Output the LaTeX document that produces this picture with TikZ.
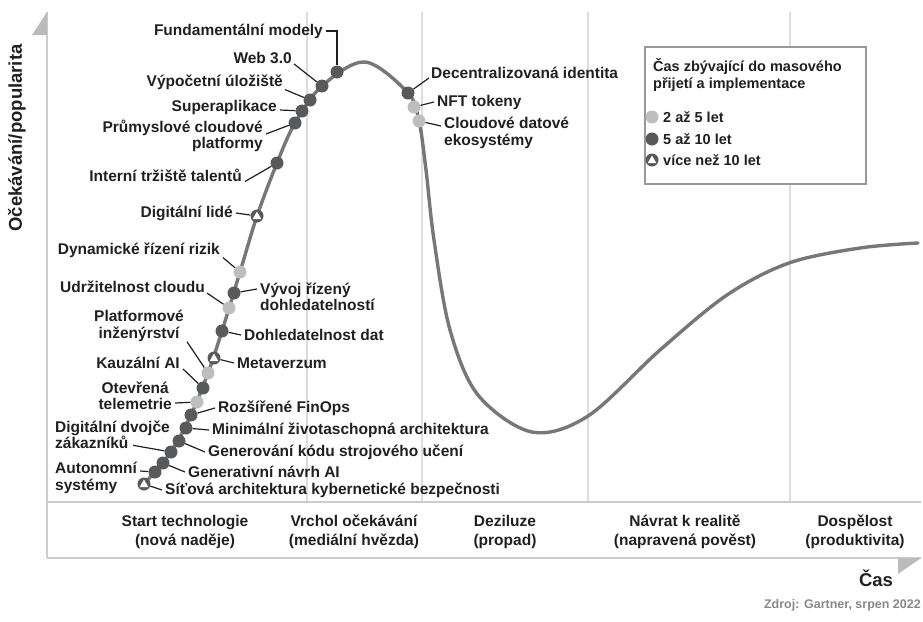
\documentclass[tikz,border=0pt]{standalone}
\usepackage{fontspec}
\setmainfont{Liberation Sans}
\definecolor{curvec}{HTML}{777777}
\definecolor{dkc}{HTML}{58595B}
\definecolor{ltc}{HTML}{BCBEC0}
\definecolor{txtc}{HTML}{231F20}
\definecolor{gridc}{HTML}{DDDDDD}
\definecolor{axc}{HTML}{CCCCCC}
\definecolor{arrc}{HTML}{BBBBBB}
\definecolor{legc}{HTML}{999999}
\definecolor{srcc}{HTML}{888888}
\begin{document}
\begin{tikzpicture}[x=1pt,y=-1pt,
  lab/.style={font=\fontsize{15.5}{16.5}\selectfont\bfseries, text=txtc, inner sep=0pt},
  phase/.style={font=\fontsize{15.5}{18.5}\selectfont\bfseries, text=txtc, inner sep=0pt, align=center},
  axlab/.style={font=\fontsize{18.5}{20}\selectfont\bfseries, text=txtc, inner sep=0pt},
  leglab/.style={font=\fontsize{14.5}{17}\selectfont\bfseries, text=txtc, inner sep=0pt},
  dk/.style={circle, fill=dkc, minimum size=13pt, inner sep=0pt},
  lt/.style={circle, fill=ltc, minimum size=13pt, inner sep=0pt},
  tri/.style={circle, fill=dkc, minimum size=13pt, inner sep=0pt,
    path picture={\fill[white] ([yshift=-0.6pt]path picture bounding box.center) ++(0,5pt) -- ++(-4.4pt,-7.6pt) -- ++(8.8pt,0) -- cycle;}},
  ld/.style={draw=txtc, line width=1.2pt},
  gridline/.style={draw=gridc, line width=1.3pt},
  axline/.style={draw=axc, line width=1.6pt},
  hype/.style={draw=curvec, line width=3.4pt, line cap=round}]
\useasboundingbox (0,0) rectangle (923,621);
\fill[white] (0,0) rectangle (923,621);

% grid lines
\draw[gridline] (307,12) -- (307,502);
\draw[gridline] (422,12) -- (422,502);
\draw[gridline] (588,12) -- (588,502);
\draw[gridline] (790,12) -- (790,502);

% axes and bottom band
\draw[axline] (47,12) -- (47,558);
\draw[axline] (47,502) -- (921,502);
\draw[axline] (47,558) -- (921,558);
\fill[arrc] (47,12) -- (47,35) -- (32,35) -- cycle;
\fill[arrc] (921,558) -- (898,558) -- (898,574) -- cycle;

% hype curve
\draw[hype] plot[smooth, tension=0.55] coordinates {
 (144,484) (171,452) (191,415) (208,373) (222,331) (240,272) (257,216)
 (277,163) (295,123) (322,86) (365,62) (408,93) (419,121) (426,170)
 (434,240) (450,330) (478,395) (532,432) (588,416) (660,350) (727,295)
 (789,263) (860,248) (918,243)};

% markers
\node[tri] (dsit) at (144,484) {};
\node[dk] (daut) at (155,472) {};
\node[dk] (dgna) at (163,463) {};
\node[dk] (dddv) at (171,452) {};
\node[dk] (dgen) at (179,441) {};
\node[dk] (dmin) at (186,428) {};
\node[dk] (droz) at (191,415) {};
\node[lt] (dote) at (197,402) {};
\node[dk] (dkau) at (203,388) {};
\node[lt] (dplat) at (208,373) {};
\node[tri] (dmet) at (214,358) {};
\node[dk] (ddoh) at (222,331) {};
\node[lt] (dudr) at (229,308) {};
\node[dk] (dvyv) at (234,293) {};
\node[lt] (ddyn) at (240,272) {};
\node[tri] (ddl) at (257,216) {};
\node[dk] (dint) at (277,163) {};
\node[dk] (dprum) at (295,123) {};
\node[dk] (dsup) at (302,111) {};
\node[dk] (dvyp) at (310,100) {};
\node[dk] (dweb) at (322,86) {};
\node[dk] (dfund) at (337,72) {};
\node[dk] (ddec) at (408,93) {};
\node[lt] (dnft) at (414,107) {};
\node[lt] (dclo) at (419,121) {};

% labels left of curve
\node[lab, anchor=east] (fund) at (323,31) {Fundamentální modely};
\node[lab, anchor=east] (web) at (292,58) {Web 3.0};
\node[lab, anchor=east] (vyp) at (283,82) {Výpočetní úložiště};
\node[lab, anchor=east] (sup) at (277,107) {Superaplikace};
\node[lab, anchor=east, align=right] (prum) at (263,136) {Průmyslové cloudové\\platformy};
\node[lab, anchor=east] (int) at (242,175) {Interní tržiště talentů};
\node[lab, anchor=east] (dl) at (233,213) {Digitální lidé};
\node[lab, anchor=east] (dyn) at (220,250) {Dynamické řízení rizik};
\node[lab, anchor=east] (udr) at (205,287) {Udržitelnost cloudu};
\node[lab, anchor=east, align=center] (plat) at (184,326) {Platformové\\inženýrství};
\node[lab, anchor=east] (kau) at (180,363) {Kauzální AI};
\node[lab, anchor=east, align=center] (ote) at (172,396) {Otevřená\\telemetrie};
\node[lab, anchor=west, align=left] (ddv) at (55,435) {Digitální dvojče\\zákazníků};
\node[lab, anchor=west, align=left] (aut) at (55,478) {Autonomní\\systémy};

% labels right of curve
\node[lab, anchor=west, align=left] (vyv) at (260,297) {Vývoj řízený\\dohledatelností};
\node[lab, anchor=west] (doh) at (244,335) {Dohledatelnost dat};
\node[lab, anchor=west] (met) at (237,363) {Metaverzum};
\node[lab, anchor=west] (roz) at (218,408) {Rozšířené FinOps};
\node[lab, anchor=west] (min) at (212,430) {Minimální životaschopná architektura};
\node[lab, anchor=west] (gen) at (208,452) {Generování kódu strojového učení};
\node[lab, anchor=west] (gna) at (188,472) {Generativní návrh AI};
\node[lab, anchor=west] (sit) at (165,490) {Síťová architektura kybernetické bezpečnosti};
\node[lab, anchor=west] (dec) at (431,73) {Decentralizovaná identita};
\node[lab, anchor=west] (nft) at (437,102) {NFT tokeny};
\node[lab, anchor=west, align=left] (clo) at (444,133) {Cloudové datové\\ekosystémy};

% leaders
\draw[ld] ([xshift=3pt]fund.east) -| (dfund);
\draw[ld] ([xshift=2pt]web.south east) -- (dweb);
\draw[ld] ([xshift=2pt]vyp.south east) -- (dvyp);
\draw[ld] ([xshift=3pt,yshift=-3pt]sup.east) -- (dsup);
\draw[ld] ([xshift=3pt,yshift=2pt]prum.east) -- (dprum);
\draw[ld] ([xshift=3pt]int.south east) -- (dint);
\draw[ld] ([xshift=3pt]dl.east) -- (ddl);
\draw[ld] ([xshift=3pt]dyn.south east) -- (ddyn);
\draw[ld] ([xshift=2pt]udr.south east) -- (dudr);
\draw[ld] ([xshift=3pt]plat.south east) -- (dplat);
\draw[ld] ([xshift=3pt]kau.south east) -- (dkau);
\draw[ld] ([xshift=3pt,yshift=-7pt]ote.east) -- (dote);
\draw[ld] ([xshift=78pt,yshift=4pt]ddv.south west) -- (dddv);
\draw[ld] ([xshift=3pt,yshift=7pt]aut.east) -- (daut);
\draw[ld] (dvyv) -- ([xshift=-3pt,yshift=8pt]vyv.west);
\draw[ld] (ddoh) -- ([xshift=-3pt]doh.west);
\draw[ld] (dmet) -- ([xshift=-3pt]met.west);
\draw[ld] (droz) -- ([xshift=-3pt]roz.west);
\draw[ld] (dmin) -- ([xshift=-3pt]min.west);
\draw[ld] (dgen) -- ([xshift=-3pt]gen.west);
\draw[ld] (dgna) -- ([xshift=-3pt]gna.west);
\draw[ld] (dsit) -- ([xshift=-3pt]sit.west);
\draw[ld] (ddec) -- ([xshift=-2pt,yshift=-5pt]dec.west);
\draw[ld] (dnft) -- ([xshift=-3pt]nft.west);
\draw[ld] (dclo) -- ([xshift=-3pt,yshift=7pt]clo.west);

% legend
\node[draw=legc, line width=1.3pt, fill=white, minimum width=221pt, minimum height=137pt, inner sep=0pt] (legbox) at (755.5,115.5) {};
\node[leglab, anchor=north west, align=left] (legtitle) at (653,58) {Čas zbývající do masového\\přijetí a implementace};
\node[lt] (leg1) at (652,117) {};
\node[dk] (leg2) at (652,139) {};
\node[tri] (leg3) at (652,160) {};
\node[leglab, anchor=west] (legt1) at (663,117) {2 až 5 let};
\node[leglab, anchor=west] (legt2) at (663,139) {5 až 10 let};
\node[leglab, anchor=west] (legt3) at (663,160) {více než 10 let};

% phase labels
\node[phase] (ph1) at (185,532) {Start technologie\\(nová naděje)};
\node[phase] (ph2) at (354,532) {Vrchol očekávání\\(mediální hvězda)};
\node[phase] (ph3) at (505,532) {Deziluze\\(propad)};
\node[phase] (ph4) at (685,532) {Návrat k realitě\\(napravená pověst)};
\node[phase] (ph5) at (855,532) {Dospělost\\(produktivita)};

% axis labels and source
\node[axlab, rotate=90] (ylab) at (17,138) {Očekávání/popularita};
\node[axlab] (xlab) at (876,578) {Čas};
\node[font=\fontsize{12.5}{14}\selectfont\bfseries, text=srcc, inner sep=0pt, anchor=east] (src) at (921,605) {Zdroj: Gartner, srpen 2022};
\end{tikzpicture}
\end{document}
